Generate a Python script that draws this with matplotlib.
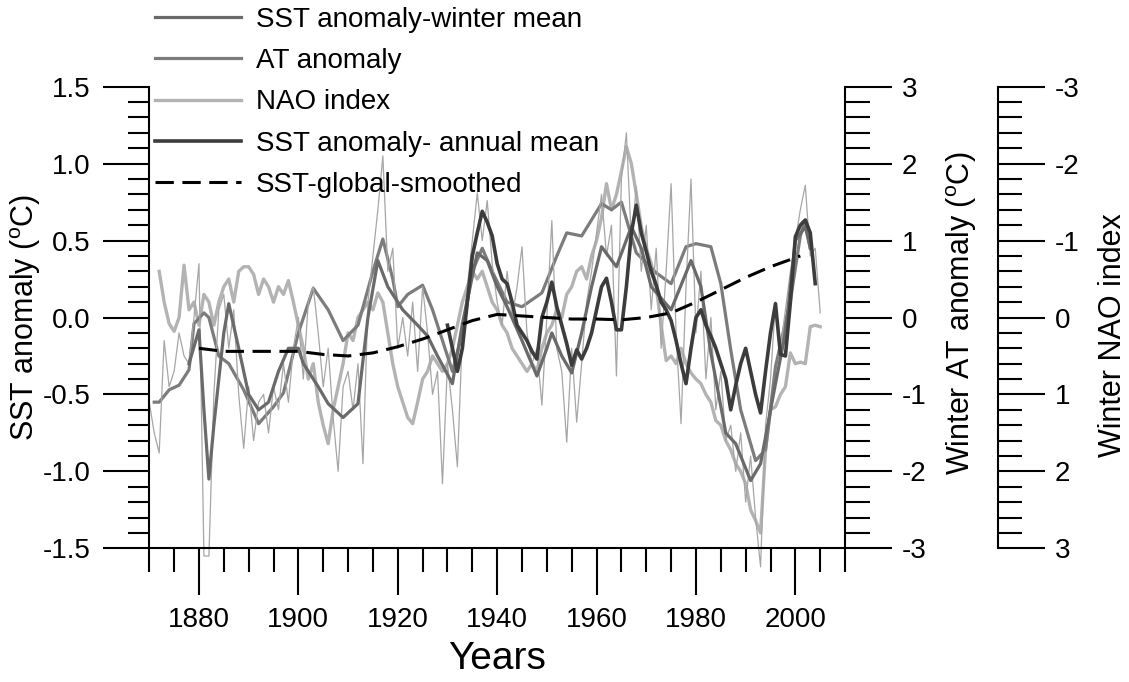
"""
SST / AT / NAO anomalies 1870-2005, three stacked y axes.
Saves the figure to out.png.
"""

import matplotlib
matplotlib.use("Agg")
import matplotlib.pyplot as plt
from matplotlib.ticker import MultipleLocator, FormatStrFormatter

plt.rcParams['font.family'] = ['Liberation Sans', 'DejaVu Sans']
plt.rcParams['mathtext.fontset'] = 'custom'
plt.rcParams['mathtext.rm'] = 'Liberation Sans'
plt.rcParams['axes.unicode_minus'] = False

# --- data ----------------------------------------------------------------

# thin raw yearly SST anomaly (deg C)
raw_years = list(range(1870, 2006))
raw_sst = [-0.55, -0.75, -0.88, -0.15, -0.45, -0.35, -0.1, -0.25, -0.3, 0.0,
           0.35, -1.55, -1.55, -0.5, 0.05, 0.15, -0.2, 0.05, -0.5, -0.85,
           -0.45, -0.8, -0.55, -0.5, -0.75, -0.45, -0.6, -0.3, -0.55, -0.2,
           0.0, -0.4, 0.1, 0.2, -0.1, -0.45, -0.2, -0.65, -1.0, -0.45,
           -0.35, -0.6, -0.3, -0.95, 0.1, 0.4, 0.7, 1.05, 0.3, 0.45,
           -0.2, 0.0, -0.25, 0.1, -0.35, 0.2, -0.1, -0.5, -0.35, -1.08,
           -0.3, -0.6, -0.97, -0.1, 0.2, 0.5, 0.81, 0.5, 0.76, 0.35,
           0.1, -0.05, 0.3, 0.0, 0.2, 0.46, -0.1, -0.3, -0.2, -0.57,
           0.0, 0.63, -0.2, -0.35, -0.81, -0.2, -0.68, -0.3, 0.1, 0.3,
           0.55, 0.8, 0.4, 0.6, -0.38, 0.9, 1.2, 0.5, 0.85, 0.3,
           0.6, 0.05, 0.45, -0.2, 0.3, 0.87, -0.1, -0.69, 0.2, 0.9,
           -0.1, 0.3, -0.4, 0.0, -0.6, -0.35, -0.8, -0.7, -1.0, -0.75,
           -1.2, -0.9, -1.3, -1.62, -0.7, -0.4, 0.1, -0.2, 0.05, 0.3,
           0.5, 0.7, 0.86, 0.4, 0.45, 0.03]

# SST anomaly - winter mean, smoothed (deg C)
winter_years = [1878, 1880, 1881, 1882, 1883, 1885, 1886, 1888, 1890, 1892,
                1894, 1896, 1898, 1900, 1901, 1904, 1906, 1909, 1912, 1914,
                1916, 1918, 1921, 1924, 1926, 1928, 1931, 1933, 1936, 1938,
                1940, 1942, 1945, 1948, 1950, 1951, 1953, 1955, 1957, 1959,
                1961, 1964, 1967, 1969, 1971, 1975, 1979, 1981, 1983, 1986,
                1988, 1991, 1993, 1996, 1998, 2000, 2002, 2003]
winter_sst = [-0.3, -0.08, -0.6, -1.05, -0.7, -0.1, 0.09, -0.2, -0.5, -0.6,
              -0.55, -0.35, -0.2, -0.2, -0.3, -0.45, -0.56, -0.65, -0.56, 0.0,
              0.37, 0.2, 0.05, -0.05, -0.12, -0.25, -0.43, -0.04, 0.42, 0.37,
              0.2, 0.07, -0.15, -0.38, -0.2, -0.1, -0.25, -0.36, -0.1, 0.2,
              0.46, 0.33, 0.59, 0.45, 0.2, 0.05, 0.37, 0.2, -0.23, -0.75,
              -0.82, -1.06, -0.95, -0.43, -0.1, 0.5, 0.59, 0.45]

# winter AT anomaly, smoothed (deg C, right axis)
at_years = [1871, 1872, 1874, 1876, 1878, 1879, 1881, 1882, 1884, 1886,
            1889, 1892, 1895, 1897, 1900, 1903, 1906, 1909, 1912, 1915,
            1917, 1919, 1920, 1922, 1925, 1927, 1929, 1931, 1933, 1935,
            1937, 1939, 1942, 1945, 1949, 1952, 1954, 1957, 1961, 1963,
            1965, 1968, 1972, 1975, 1978, 1980, 1983, 1985, 1987, 1989,
            1992, 1994, 1996, 1999, 2001, 2002, 2003]
at_anom = [-1.1, -1.1, -0.94, -0.88, -0.68, -0.08, 0.06, 0.0, -0.5, -0.6,
           -0.94, -1.38, -1.16, -0.98, -0.2, 0.38, 0.1, -0.3, -0.1, 0.6,
           1.02, 0.5, 0.14, 0.3, 0.42, 0.1, -0.3, -0.7, -0.2, 0.6,
           0.9, 0.6, 0.2, 0.14, 0.32, 0.8, 1.1, 1.06, 1.48, 1.4,
           1.5, 0.84, 0.58, 0.44, 0.92, 0.96, 0.92, 0.44, -0.42, -1.2,
           -1.86, -1.72, -0.64, 0.22, 1.06, 1.26, 0.9]

# winter NAO index (inverted right axis)
nao_years = list(range(1872, 2006))
nao_index = [-0.6, -0.2, 0.08, 0.18, 0.0, -0.68, -0.1, -0.2, 0.1, -0.3,
             -0.2, 0.1, -0.2, -0.4, -0.5, -0.2, -0.6, -0.66, -0.66, -0.56,
             -0.3, -0.5, -0.4, -0.2, -0.4, -0.3, -0.48, -0.2, 0.1, 0.4,
             0.8, 0.6, 1.1, 1.4, 1.64, 1.2, 0.9, 0.6, 0.2, 0.3,
             0.0, -0.1, -0.2, -0.1, -0.32, -0.2, 0.2, 0.6, 0.9, 1.1,
             1.3, 1.38, 1.1, 0.8, 0.7, 0.5, 0.6, 0.7, 0.6, 0.4,
             0.1, -0.2, -0.4, -0.6, -0.5, -0.6, -0.4, -0.2, -0.1, 0.1,
             0.2, 0.4, 0.5, 0.6, 0.7, 0.6, 0.7, 0.4, 0.2, 0.1,
             -0.1, 0.0, -0.3, -0.4, -0.6, -0.66, -0.5, -0.8, -1.0, -1.3,
             -1.74, -1.4, -1.6, -1.9, -2.22, -2.0, -1.6, -1.18, -0.9, -0.7,
             -0.4, 0.1, 0.56, 0.5, 0.6, 0.4, 0.6, 0.72, 0.8, 0.86,
             1.0, 1.1, 1.34, 1.4, 1.6, 1.72, 1.9, 2.0, 2.16, 2.5,
             2.64, 2.8, 1.72, 1.2, 1.16, 1.0, 0.9, 0.46, 0.6, 0.58,
             0.6, 0.12, 0.1, 0.12]

# SST anomaly - annual mean (deg C)
annual_years = list(range(1930, 2005))
annual_sst = [-0.05, -0.2, -0.35, -0.2, 0.1, 0.4, 0.55, 0.69, 0.62, 0.53,
              0.35, 0.25, 0.22, 0.1, -0.05, -0.1, -0.15, -0.22, -0.27, 0.0,
              0.1, 0.23, 0.07, -0.05, -0.17, -0.31, -0.21, -0.27, -0.2, -0.1,
              0.05, 0.2, 0.255, 0.1, -0.08, -0.08, 0.2, 0.55, 0.73, 0.55,
              0.43, 0.3, 0.21, 0.1, 0.05, -0.02, -0.15, -0.3, -0.43, -0.2,
              0.0, 0.05, -0.05, -0.12, -0.2, -0.3, -0.4, -0.6, -0.44, -0.3,
              -0.2, -0.35, -0.5, -0.62, -0.35, -0.1, 0.09, -0.24, -0.25, 0.1,
              0.525, 0.6, 0.634, 0.55, 0.22]

# SST global, smoothed (deg C)
global_years = [1880, 1885, 1890, 1895, 1900, 1905, 1910, 1915, 1920, 1925,
                1930, 1935, 1940, 1945, 1950, 1955, 1960, 1965, 1970, 1975,
                1980, 1985, 1990, 1995, 2001]
global_sst = [-0.2, -0.22, -0.22, -0.22, -0.22, -0.24, -0.25, -0.23, -0.19, -0.14,
              -0.08, -0.02, 0.02, 0.01, 0.0, -0.01, -0.01, -0.015, 0.0, 0.03,
              0.1, 0.18, 0.26, 0.33, 0.4]

# --- figure --------------------------------------------------------------

fig = plt.figure(figsize=(11.29, 6.82), dpi=100)
ax = fig.add_axes([0.1322, 0.196, 0.6163, 0.6769])
ax_at = ax.twinx()
ax_nao = ax.twinx()

# left axis on top so SST lines sit over AT and NAO
ax_nao.set_zorder(1)
ax_at.set_zorder(2)
ax.set_zorder(3)
ax.patch.set_visible(False)

ax.plot(raw_years, raw_sst, color='#a6a6a6', lw=0.9, zorder=1, clip_on=False)
l_nao, = ax_nao.plot(nao_years, nao_index, color='#b3b3b3', lw=2.4, label='NAO index')
l_at, = ax_at.plot(at_years, at_anom, color='#7c7c7c', lw=2.3, label='AT anomaly')
l_win, = ax.plot(winter_years, winter_sst, color='#6a6a6a', lw=2.3, zorder=2,
                 label='SST anomaly-winter mean')
l_ann, = ax.plot(annual_years, annual_sst, color='#3c3c3c', lw=2.6, zorder=3,
                 label='SST anomaly- annual mean')
l_glob, = ax.plot(global_years, global_sst, color='black', lw=2.2, zorder=4,
                  dashes=(6, 2.8), label='SST-global-smoothed')

# x axis
ax.set_xlim(1870, 2010)
ax.xaxis.set_minor_locator(MultipleLocator(5))
ax.set_xticks([1880, 1900, 1920, 1940, 1960, 1980, 2000])
ax.tick_params(axis='x', which='major', direction='out', length=34, width=1.5,
               pad=8, labelsize=20)
ax.tick_params(axis='x', which='minor', direction='out', length=17, width=1.5)
ax.set_xlabel('Years', fontsize=28)
ax.xaxis.set_label_coords(0.5, -0.2)

# left axis: SST
ax.set_ylim(-1.5, 1.5)
ax.yaxis.set_major_locator(MultipleLocator(0.5))
ax.yaxis.set_minor_locator(MultipleLocator(0.1))
ax.yaxis.set_major_formatter(FormatStrFormatter('%.1f'))
ax.tick_params(axis='y', which='major', direction='out', length=33, width=1.5,
               pad=9, labelsize=20)
ax.tick_params(axis='y', which='minor', direction='out', length=15, width=1.5)
ax.set_ylabel(r'SST anomaly ($^{\mathrm{o}}$C)', fontsize=22)
ax.yaxis.set_label_coords(-0.153, 0.5)
for side in ['top', 'right']:
    ax.spines[side].set_visible(False)
for side in ['left', 'bottom']:
    ax.spines[side].set_linewidth(1.5)

# right axis: winter AT
ax_at.set_ylim(-3, 3)
ax_at.yaxis.set_major_locator(MultipleLocator(1))
ax_at.yaxis.set_minor_locator(MultipleLocator(0.2))
ax_at.tick_params(axis='y', which='major', direction='out', length=34, width=1.5,
                  pad=7, labelsize=20)
ax_at.tick_params(axis='y', which='minor', direction='out', length=18, width=1.5)
ax_at.set_ylabel(r'Winter AT anomaly ($^{\mathrm{o}}$C)', fontsize=22)
ax_at.yaxis.set_label_coords(1.143, 0.51)
for side in ['top', 'left', 'bottom']:
    ax_at.spines[side].set_visible(False)
ax_at.spines['right'].set_linewidth(1.5)

# second right axis: winter NAO, inverted
ax_nao.set_ylim(3, -3)
ax_nao.spines['right'].set_position(('axes', 1.22))
ax_nao.yaxis.set_major_locator(MultipleLocator(1))
ax_nao.yaxis.set_minor_locator(MultipleLocator(0.2))
ax_nao.tick_params(axis='y', which='major', direction='out', length=34, width=1.5,
                   pad=7, labelsize=20)
ax_nao.tick_params(axis='y', which='minor', direction='out', length=17, width=1.5)
ax_nao.set_ylabel('Winter NAO index', fontsize=22)
ax_nao.yaxis.set_label_coords(1.364, 0.462)
for side in ['top', 'left', 'bottom']:
    ax_nao.spines[side].set_visible(False)
ax_nao.spines['right'].set_linewidth(1.5)

handles = [l_win, l_at, l_nao, l_ann, l_glob]
fig.legend(handles, [h.get_label() for h in handles], loc='upper left',
           bbox_to_anchor=(0.137, 0.99), frameon=False, fontsize=20,
           handlelength=3.1, handletextpad=0.55, labelspacing=0.55,
           borderpad=0, borderaxespad=0)

fig.savefig('out.png', dpi=100)
